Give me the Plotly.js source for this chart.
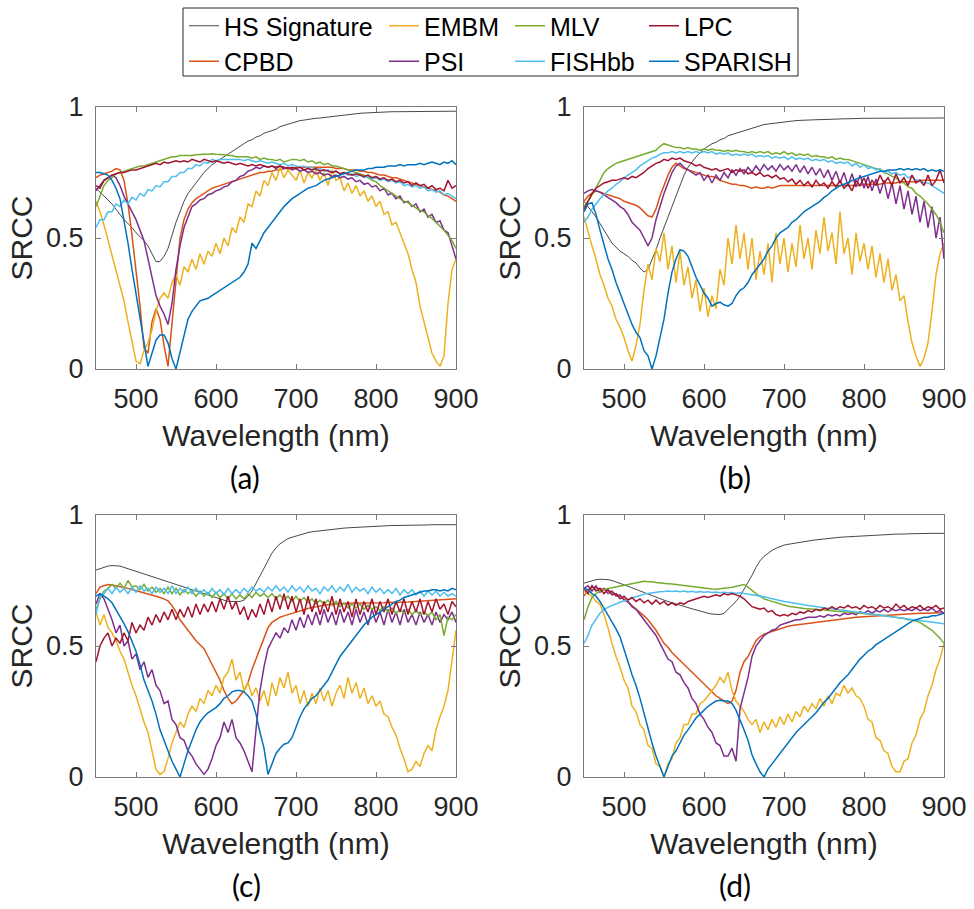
<!DOCTYPE html>
<html>
<head>
<meta charset="utf-8">
<script src="https://cdn.plot.ly/plotly-3.0.1.min.js"></script>
<style>html,body{margin:0;padding:0;background:#fff;}#chart{width:974px;height:909px;}</style>
</head>
<body>
<div id="chart"></div>
<script>
// Wavelength samples (nm)
const wl = [450,455,460,465,470,475,480,485,490,495,500,505,510,515,520,525,530,535,540,545,550,555,560,565,570,575,580,585,590,595,600,605,610,615,620,625,630,635,640,645,650,655,660,665,670,675,680,685,690,695,700,705,710,715,720,725,730,735,740,745,750,755,760,765,770,775,780,785,790,795,800,805,810,815,820,825,830,835,840,845,850,855,860,865,870,875,880,885,890,895,900];

const xTicks = [500,600,700,800,900];
const yTicks = [0,0.5,1];
const yTickText = ['0','0.5','1'];
const panelLabels = ['(a)','(b)','(c)','(d)'];

// ---------- Panel (a) ----------
const hs_a = [.69,.675,.66,.645,.63,.61,.59,.57,.555,.54, .52,.505,.49,.47,.44,.41,.41,.43,.46,.51, .56,.60,.64,.67,.69,.71,.73,.75,.765,.78, .79,.80,.81,.82,.83,.84,.85,.86,.87,.875, .885,.89,.90,.905,.91,.915,.925,.93,.935,.94, .945,.948,.95,.953,.955,.957,.958,.96,.961,.963, .965,.968,.97,.972,.973,.975,.976,.977,.978,.979, .98,.98,.981,.981,.982,.982,.982,.983,.983,.983, .983,.984,.984,.984,.984,.984,.984,.984,.984,.984, .984];
const embm_a = [.64,.60,.55,.49,.44,.38,.31,.26,.18,.10, .03,.02,.07,.10,.15,.22,.27,.29,.27,.33, .36,.32,.39,.37,.42,.38,.44,.40,.45,.43, .48,.44,.50,.47,.54,.52,.58,.56,.63,.62, .68,.66,.72,.70,.75,.72,.77,.73,.76,.74, .72,.76,.71,.75,.73,.76,.72,.75,.70,.76, .72,.73,.68,.71,.67,.70,.66,.68,.64,.66, .62,.64,.59,.60,.55,.56,.52,.48,.44,.38, .33,.24,.18,.12,.06,.03,.01,.05,.25,.38, .42];
const mlv_a = [.62,.66,.70,.72,.73,.745,.75,.755,.76,.765, .77,.775,.775,.78,.785,.79,.795,.80,.805,.81, .81,.815,.815,.815,.815,.818,.82,.82,.82,.822, .82,.82,.818,.815,.815,.81,.81,.81,.81,.805, .81,.80,.805,.80,.80,.795,.80,.79,.795,.80, .80,.795,.80,.79,.795,.785,.79,.78,.785,.775, .775,.77,.765,.76,.755,.75,.745,.74,.73,.72, .715,.70,.69,.68,.67,.66,.65,.64,.635,.625, .615,.605,.60,.585,.575,.56,.545,.53,.51,.49, .46];
const lpc_a = [.70,.69,.72,.73,.74,.745,.75,.75,.755,.76, .76,.765,.77,.775,.78,.785,.78,.79,.785,.79, .795,.79,.795,.79,.80,.795,.79,.80,.795,.79, .795,.79,.785,.79,.785,.78,.785,.78,.775,.78, .775,.78,.775,.77,.775,.77,.775,.77,.765,.77, .765,.77,.76,.765,.76,.765,.755,.76,.755,.75, .755,.745,.75,.745,.74,.745,.74,.735,.74,.73, .735,.725,.73,.72,.725,.715,.72,.71,.715,.70, .71,.70,.705,.69,.70,.685,.69,.68,.72,.69, .70];
const fish_a = [.54,.57,.57,.60,.60,.63,.62,.645,.63,.655, .645,.67,.66,.685,.68,.70,.695,.715,.715,.735, .735,.75,.75,.765,.765,.78,.775,.79,.785,.80, .795,.80,.80,.80,.80,.80,.80,.795,.80,.795, .79,.795,.79,.785,.79,.785,.78,.785,.775,.78, .775,.77,.775,.765,.77,.76,.765,.755,.76,.75, .755,.745,.75,.74,.745,.735,.74,.73,.735,.725, .73,.72,.725,.715,.72,.71,.715,.70,.705,.695, .70,.69,.695,.68,.685,.675,.68,.665,.67,.66, .65];
const psi_a = [.68,.70,.72,.73,.74,.73,.70,.66,.63,.60, .57,.53,.49,.42,.35,.28,.24,.21,.17,.25, .38,.47,.54,.58,.62,.63,.645,.65,.665,.67, .68,.685,.695,.70,.715,.72,.735,.74,.755,.76, .77,.765,.775,.77,.775,.765,.775,.765,.77,.76, .765,.755,.76,.75,.755,.745,.75,.74,.745,.735, .74,.73,.735,.725,.73,.715,.72,.705,.71,.695, .70,.68,.69,.665,.67,.65,.66,.635,.64,.62, .63,.60,.61,.58,.59,.56,.565,.53,.52,.47, .42];
const cpbd_a = [.73,.74,.745,.75,.755,.765,.76,.72,.63,.51, .38,.24,.08,.06,.18,.23,.19,.09,.01,.17, .36,.50,.57,.61,.635,.65,.66,.67,.68,.69, .695,.70,.705,.71,.715,.72,.725,.73,.735,.74, .745,.75,.75,.755,.755,.76,.76,.765,.765,.765, .77,.77,.77,.77,.77,.77,.77,.77,.77,.77, .765,.765,.765,.76,.76,.76,.755,.755,.75,.75, .745,.74,.74,.735,.73,.73,.725,.72,.715,.71, .705,.70,.695,.69,.685,.68,.675,.665,.66,.65, .64];
const sparish_a = [.75,.75,.745,.74,.72,.69,.65,.57,.48,.38, .29,.19,.10,.01,.06,.11,.13,.13,.10,.04, .0,.06,.13,.19,.22,.24,.26,.265,.27,.28, .29,.30,.31,.32,.33,.34,.35,.37,.40,.48, .46,.49,.52,.54,.56,.58,.60,.62,.635,.65, .66,.67,.68,.69,.695,.70,.71,.72,.725,.73, .735,.74,.745,.75,.755,.76,.76,.76,.765,.765, .77,.77,.77,.775,.775,.775,.78,.775,.78,.78, .78,.785,.78,.785,.79,.785,.78,.79,.785,.795, .78];

// ---------- Panel (b) ----------
const hs_b = [.64,.62,.60,.58,.555,.53,.50,.48,.465,.45, .44,.43,.415,.405,.385,.37,.38,.415,.455,.50, .54,.58,.62,.66,.70,.74,.77,.79,.81,.825, .84,.85,.86,.865,.875,.88,.89,.895,.90,.905, .91,.915,.92,.925,.93,.933,.935,.937,.94,.942, .944,.945,.947,.948,.949,.95,.95,.951,.951,.952, .952,.953,.953,.954,.954,.955,.955,.956,.956,.957, .957,.957,.957,.957,.957,.958,.958,.958,.958,.958, .958,.958,.958,.958,.958,.958,.958,.958,.958,.958, .958];
const embm_b = [.58,.52,.47,.42,.36,.32,.27,.24,.19,.16, .12,.07,.03,.09,.17,.30,.40,.34,.46,.41, .52,.38,.47,.33,.45,.32,.39,.27,.34,.22, .31,.20,.28,.23,.38,.32,.50,.40,.55,.42, .52,.38,.50,.34,.45,.36,.48,.33,.52,.40, .50,.37,.48,.39,.55,.42,.50,.38,.53,.44, .58,.45,.52,.40,.60,.44,.50,.36,.52,.41, .48,.38,.47,.35,.44,.33,.42,.30,.36,.26, .28,.18,.10,.05,.01,.04,.10,.22,.36,.44, .48];
const mlv_b = [.62,.64,.665,.69,.72,.75,.765,.775,.785,.79, .795,.80,.805,.81,.815,.82,.825,.83,.835,.85, .86,.855,.85,.845,.845,.84,.845,.84,.84,.835, .84,.835,.84,.835,.835,.83,.835,.83,.835,.83, .83,.825,.83,.825,.83,.825,.83,.82,.825,.82, .83,.82,.825,.815,.82,.815,.82,.81,.815,.81, .81,.805,.81,.80,.805,.80,.80,.795,.79,.785, .78,.775,.77,.765,.76,.75,.745,.735,.73,.715, .71,.695,.69,.67,.66,.645,.63,.61,.59,.56, .52];
const lpc_b = [.61,.64,.67,.69,.70,.71,.715,.72,.72,.725, .73,.725,.735,.73,.74,.75,.765,.775,.785,.79, .80,.795,.805,.80,.805,.795,.79,.785,.775,.78, .77,.765,.76,.765,.755,.76,.765,.75,.76,.755, .76,.745,.75,.74,.75,.735,.74,.73,.74,.725, .73,.715,.725,.705,.72,.70,.715,.695,.72,.70, .71,.69,.715,.695,.72,.69,.705,.68,.72,.70, .73,.69,.72,.70,.74,.71,.73,.70,.745,.71, .73,.70,.74,.71,.72,.70,.74,.70,.72,.76, .71];
const fish_b = [.56,.58,.61,.63,.65,.665,.68,.69,.705,.715, .73,.74,.75,.76,.775,.785,.795,.805,.81,.82, .825,.825,.83,.825,.83,.825,.83,.825,.83,.825, .83,.825,.83,.82,.825,.82,.825,.815,.82,.815, .82,.815,.82,.81,.815,.81,.815,.805,.81,.805, .81,.80,.81,.80,.805,.80,.805,.795,.80,.795, .80,.79,.795,.785,.79,.785,.79,.775,.785,.77, .78,.765,.77,.76,.765,.75,.755,.745,.75,.74, .745,.73,.735,.72,.72,.71,.71,.70,.69,.68, .67];
const psi_b = [.67,.68,.685,.68,.675,.665,.655,.645,.635,.62, .61,.59,.56,.545,.53,.50,.47,.50,.57,.62, .67,.71,.75,.775,.785,.77,.76,.75,.74,.75, .72,.74,.71,.74,.72,.75,.73,.76,.74,.765, .745,.77,.75,.775,.755,.78,.76,.775,.755,.78, .76,.775,.755,.78,.75,.775,.745,.77,.74,.765, .73,.76,.72,.755,.71,.75,.70,.745,.695,.74, .69,.735,.68,.725,.67,.72,.65,.71,.63,.70, .61,.68,.59,.66,.56,.64,.54,.62,.50,.58, .42];
const cpbd_b = [.64,.66,.67,.68,.675,.67,.665,.66,.655,.65, .64,.635,.63,.625,.615,.60,.585,.58,.61,.66, .70,.74,.77,.785,.775,.765,.76,.755,.75,.745, .74,.735,.735,.73,.72,.715,.71,.705,.705,.70, .70,.695,.69,.695,.69,.69,.695,.69,.695,.70, .70,.70,.70,.70,.70,.70,.70,.70,.70,.70, .70,.70,.70,.70,.70,.70,.70,.70,.70,.70, .705,.705,.705,.705,.705,.71,.71,.71,.71,.715, .715,.715,.715,.715,.72,.72,.72,.72,.72,.72, .72];
const sparish_b = [.60,.63,.635,.59,.53,.47,.42,.38,.33,.29, .25,.21,.17,.14,.12,.07,.05,.0,.05,.12, .19,.29,.37,.42,.455,.45,.43,.39,.35,.32, .29,.27,.24,.25,.255,.245,.24,.25,.28,.30, .31,.33,.36,.38,.40,.42,.45,.47,.50,.52, .53,.54,.56,.57,.585,.60,.61,.62,.63,.64, .655,.665,.68,.69,.70,.705,.71,.72,.725,.73, .735,.74,.745,.75,.755,.755,.76,.76,.76,.765, .76,.765,.76,.765,.76,.765,.755,.76,.755,.76, .755];

// ---------- Panel (c) ----------
const hs_c = [.79,.795,.80,.805,.807,.807,.805,.80,.795,.79, .785,.78,.775,.77,.765,.76,.755,.75,.745,.74, .735,.73,.725,.72,.715,.71,.705,.70,.695,.69, .685,.68,.675,.67,.67,.67,.67,.675,.69,.71, .74,.77,.80,.83,.855,.875,.89,.90,.91,.915, .92,.925,.93,.933,.936,.938,.94,.942,.944,.946, .948,.949,.95,.951,.952,.953,.954,.955,.956,.957, .958,.958,.959,.959,.96,.96,.96,.961,.961,.961, .962,.962,.962,.962,.963,.963,.963,.963,.963,.963, .963];
const embm_c = [.63,.58,.62,.57,.55,.52,.48,.45,.40,.35, .31,.26,.21,.17,.10,.03,.01,.02,.07,.13, .17,.21,.19,.24,.27,.25,.30,.28,.33,.31, .35,.32,.38,.40,.45,.37,.40,.33,.36,.31, .34,.29,.33,.27,.36,.31,.38,.34,.40,.32, .35,.28,.33,.27,.32,.28,.34,.29,.33,.27, .32,.35,.30,.38,.32,.36,.30,.34,.28,.31, .27,.29,.24,.23,.19,.16,.11,.07,.02,.03, .06,.04,.09,.12,.10,.18,.23,.27,.33,.45, .56];
const mlv_c = [.64,.68,.71,.72,.735,.72,.74,.72,.75,.725, .73,.715,.735,.71,.725,.705,.72,.70,.725,.70, .72,.695,.715,.70,.71,.69,.71,.69,.705,.685, .705,.685,.70,.68,.70,.68,.695,.68,.70,.685, .705,.69,.70,.685,.70,.68,.695,.675,.69,.67, .69,.67,.685,.665,.68,.66,.675,.66,.675,.655, .67,.65,.665,.645,.66,.645,.66,.64,.655,.64, .65,.635,.65,.63,.645,.625,.64,.625,.64,.62, .635,.62,.63,.615,.63,.60,.62,.54,.61,.60, .62];
const lpc_c = [.44,.50,.53,.55,.50,.53,.51,.55,.52,.59, .55,.58,.56,.61,.58,.62,.59,.63,.60,.64, .60,.64,.61,.65,.61,.66,.62,.66,.63,.67, .63,.68,.64,.69,.64,.67,.62,.65,.60,.64, .61,.66,.62,.68,.63,.69,.64,.70,.64,.69, .63,.68,.62,.69,.63,.68,.62,.67,.63,.69, .62,.68,.63,.67,.61,.68,.62,.67,.63,.68, .62,.67,.63,.68,.62,.67,.63,.68,.62,.67, .63,.68,.62,.67,.63,.68,.64,.66,.62,.67, .65];
const fish_c = [.62,.69,.70,.72,.70,.725,.705,.72,.70,.725, .705,.73,.71,.72,.70,.725,.705,.72,.70,.73, .70,.72,.705,.725,.70,.72,.70,.715,.695,.72, .70,.715,.695,.72,.70,.715,.70,.72,.705,.725, .71,.72,.705,.725,.71,.73,.71,.725,.705,.73, .71,.725,.705,.73,.71,.72,.70,.725,.71,.73, .705,.725,.71,.735,.705,.725,.71,.72,.70,.725, .705,.72,.70,.715,.70,.72,.695,.715,.70,.715, .695,.71,.69,.71,.695,.71,.69,.705,.69,.70, .69];
const psi_c = [.66,.70,.68,.64,.60,.55,.58,.50,.52,.45, .47,.41,.44,.38,.41,.35,.33,.28,.29,.22, .20,.15,.14,.10,.08,.05,.03,.01,.03,.07, .12,.15,.21,.17,.22,.15,.13,.10,.06,.02, .18,.33,.42,.49,.52,.55,.53,.57,.55,.60, .56,.61,.57,.62,.58,.63,.58,.64,.59,.63, .58,.64,.59,.63,.58,.64,.59,.63,.58,.64, .59,.63,.58,.64,.59,.63,.58,.64,.59,.62, .58,.63,.59,.62,.58,.63,.59,.62,.60,.63, .59];
const cpbd_c = [.70,.725,.73,.735,.733,.73,.728,.725,.72,.716, .712,.708,.704,.70,.695,.69,.685,.68,.672,.655, .63,.60,.58,.56,.54,.52,.505,.49,.46,.43, .40,.37,.33,.30,.28,.29,.31,.33,.36,.41, .45,.49,.53,.57,.59,.60,.61,.615,.62,.625, .63,.635,.64,.645,.648,.65,.653,.655,.658,.66, .66,.662,.662,.663,.663,.663,.663,.664,.664,.664, .665,.665,.665,.666,.666,.667,.667,.668,.668,.669, .67,.67,.671,.672,.673,.674,.675,.676,.677,.678, .68];
const sparish_c = [.69,.70,.69,.68,.665,.64,.61,.585,.555,.52, .48,.43,.37,.33,.29,.24,.18,.14,.10,.06, .03,.0,.05,.10,.14,.18,.21,.23,.245,.255, .265,.28,.30,.31,.325,.33,.33,.325,.31,.29, .24,.17,.11,.01,.05,.09,.11,.125,.13,.15, .19,.23,.26,.28,.30,.31,.33,.35,.37,.40, .43,.46,.48,.50,.52,.54,.56,.58,.595,.61, .62,.63,.64,.65,.66,.67,.675,.685,.69,.695, .70,.705,.71,.71,.715,.715,.71,.715,.71,.72, .715];

// ---------- Panel (d) ----------
const hs_d = [.74,.745,.75,.753,.755,.755,.753,.75,.745,.74, .735,.728,.722,.716,.71,.703,.697,.69,.685,.68, .675,.67,.665,.66,.656,.652,.647,.642,.638,.633, .628,.625,.622,.62,.62,.625,.64,.655,.67,.69, .715,.74,.77,.80,.825,.842,.855,.865,.873,.88, .885,.888,.891,.894,.897,.899,.901,.903,.905,.907, .909,.911,.913,.914,.915,.916,.917,.918,.919,.92, .921,.922,.923,.924,.925,.925,.926,.926,.927,.927, .928,.928,.929,.929,.929,.93,.93,.93,.93,.93, .93];
const embm_d = [.71,.70,.69,.67,.66,.62,.57,.51,.46,.42, .37,.34,.27,.25,.20,.18,.12,.11,.05,.04, .0,.05,.07,.13,.15,.20,.20,.24,.24,.28, .29,.31,.33,.35,.38,.36,.40,.33,.29,.27, .25,.22,.20,.22,.17,.21,.18,.22,.19,.23, .20,.24,.21,.25,.23,.27,.25,.28,.26,.30, .27,.31,.28,.32,.31,.35,.32,.34,.31,.30, .27,.22,.21,.15,.14,.10,.09,.04,.02,.02, .06,.07,.13,.16,.22,.25,.31,.35,.41,.45, .51];
const mlv_d = [.60,.65,.685,.70,.71,.715,.72,.722,.725,.728, .732,.735,.738,.74,.745,.747,.745,.745,.742,.74, .74,.738,.737,.735,.733,.73,.728,.727,.725,.723, .72,.72,.718,.717,.718,.72,.722,.724,.727,.73, .735,.725,.712,.70,.69,.68,.675,.67,.665,.66, .655,.652,.65,.647,.645,.643,.642,.64,.64,.638, .637,.635,.634,.633,.632,.63,.63,.628,.627,.625, .624,.622,.62,.62,.618,.617,.615,.613,.61,.608, .605,.60,.60,.595,.59,.58,.57,.56,.545,.53, .51];
const lpc_d = [.72,.70,.73,.71,.72,.70,.715,.695,.70,.68, .69,.675,.685,.67,.68,.665,.675,.66,.675,.66, .67,.655,.665,.655,.665,.66,.67,.675,.68,.685, .69,.685,.69,.695,.69,.70,.695,.70,.695,.69, .68,.665,.65,.645,.64,.645,.63,.635,.62,.615, .62,.615,.625,.62,.63,.625,.635,.63,.64,.635, .645,.64,.65,.64,.65,.645,.655,.645,.65,.64, .655,.645,.65,.64,.655,.645,.65,.64,.66,.645, .655,.64,.65,.645,.655,.64,.65,.645,.655,.64, .645];
const fish_d = [.51,.54,.58,.605,.625,.64,.648,.655,.66,.668, .672,.678,.682,.688,.693,.698,.70,.703,.705,.707, .708,.71,.708,.71,.707,.71,.706,.709,.705,.708, .705,.707,.704,.706,.703,.705,.703,.704,.70,.703, .70,.698,.695,.693,.69,.688,.684,.68,.677,.673, .67,.668,.665,.662,.66,.657,.655,.653,.65,.648, .646,.644,.642,.64,.638,.636,.634,.632,.63,.628, .626,.624,.622,.62,.618,.616,.614,.612,.61,.608, .606,.604,.602,.60,.598,.596,.594,.592,.59,.588, .585];
const psi_d = [.72,.73,.71,.73,.705,.72,.70,.71,.69,.695, .675,.67,.65,.64,.62,.60,.58,.56,.54,.51, .48,.45,.44,.40,.39,.36,.34,.30,.28,.24, .22,.19,.17,.13,.12,.08,.08,.11,.06,.26, .32,.38,.46,.50,.52,.54,.55,.56,.565,.58, .585,.59,.595,.60,.60,.605,.61,.61,.61,.615, .61,.62,.615,.62,.615,.625,.62,.625,.62,.63, .625,.635,.625,.635,.63,.64,.63,.64,.635,.64, .635,.64,.635,.645,.635,.64,.635,.645,.63,.635, .625];
const cpbd_d = [.69,.715,.725,.722,.72,.716,.712,.705,.698,.69, .68,.667,.655,.64,.63,.615,.60,.58,.56,.535, .51,.495,.475,.46,.445,.43,.415,.40,.385,.37, .355,.34,.325,.31,.30,.29,.28,.29,.33,.40, .44,.46,.49,.52,.535,.545,.55,.555,.56,.567, .572,.575,.578,.58,.583,.585,.588,.59,.592,.594, .596,.598,.60,.602,.603,.605,.606,.608,.61,.611, .612,.613,.614,.615,.617,.618,.619,.62,.621,.622, .623,.624,.625,.625,.625,.625,.626,.626,.626,.626, .625];
const sparish_d = [.72,.715,.70,.69,.67,.645,.62,.59,.565,.535, .49,.44,.39,.35,.30,.24,.18,.13,.08,.04, .0,.04,.08,.10,.13,.16,.18,.205,.225,.24, .255,.27,.28,.29,.293,.29,.29,.28,.255,.22, .18,.14,.085,.05,.02,.0,.03,.05,.07,.09, .11,.13,.15,.17,.185,.20,.215,.23,.245,.265, .285,.30,.32,.34,.36,.375,.39,.41,.43,.45, .465,.48,.49,.505,.515,.525,.535,.545,.555,.565, .575,.585,.595,.60,.605,.61,.61,.615,.615,.62, .625];

// Series styling (drawing order = MATLAB plot order)
const series = [
  {key:'hs',      name:'HS Signature', color:'#1a1a1a', width:0.8, legend:'legend'},
  {key:'cpbd',    name:'CPBD',         color:'#D95319', width:1.5, legend:'legend'},
  {key:'embm',    name:'EMBM',         color:'#EDB120', width:1.5, legend:'legend2'},
  {key:'psi',     name:'PSI',          color:'#7E2F8E', width:1.5, legend:'legend2'},
  {key:'mlv',     name:'MLV',          color:'#77AC30', width:1.5, legend:'legend3'},
  {key:'fish',    name:'FISHbb',       color:'#4DBEEE', width:1.5, legend:'legend3'},
  {key:'lpc',     name:'LPC',          color:'#A2142F', width:1.5, legend:'legend4'},
  {key:'sparish', name:'SPARISH',      color:'#0072BD', width:1.5, legend:'legend4'}
];

const panels = [
  {xa:'x',  ya:'y',  d:{hs:hs_a, cpbd:cpbd_a, embm:embm_a, psi:psi_a, mlv:mlv_a, fish:fish_a, lpc:lpc_a, sparish:sparish_a}},
  {xa:'x2', ya:'y2', d:{hs:hs_b, cpbd:cpbd_b, embm:embm_b, psi:psi_b, mlv:mlv_b, fish:fish_b, lpc:lpc_b, sparish:sparish_b}},
  {xa:'x3', ya:'y3', d:{hs:hs_c, cpbd:cpbd_c, embm:embm_c, psi:psi_c, mlv:mlv_c, fish:fish_c, lpc:lpc_c, sparish:sparish_c}},
  {xa:'x4', ya:'y4', d:{hs:hs_d, cpbd:cpbd_d, embm:embm_d, psi:psi_d, mlv:mlv_d, fish:fish_d, lpc:lpc_d, sparish:sparish_d}}
];

const traces = [];
panels.forEach((p, pi) => {
  series.forEach(s => {
    traces.push({
      type:'scatter', mode:'lines', x: wl, y: p.d[s.key],
      xaxis: p.xa, yaxis: p.ya, name: s.name,
      line:{color:s.color, width:s.width},
      showlegend: pi === 0, legend: s.legend, hoverinfo:'skip'
    });
  });
});

const W = 974, H = 909;
const px = v => v / W;
const py = v => 1 - v / H;
const FONT = 'Liberation Sans, Arial, Helvetica, sans-serif';

function xAxis(l, r, anchor) {
  return {
    domain:[px(l), px(r)], anchor: anchor, range:[450,900],
    tickmode:'array', tickvals:xTicks,
    showline:true, linecolor:'#7a7a7a', linewidth:1, mirror:'ticks',
    ticks:'inside', ticklen:5, tickcolor:'#7a7a7a', tickwidth:1,
    showgrid:false, zeroline:false, ticklabelstandoff: 6,
    tickfont:{family:FONT, size:27, color:'#262626'},
    title:{text:'Wavelength (nm)', font:{family:FONT, size:30, color:'#262626'}, standoff: 11}
  };
}
function yAxis(t, b, anchor) {
  return {
    domain:[py(b), py(t)], anchor: anchor, range:[0,1],
    tickmode:'array', tickvals:yTicks, ticktext:yTickText,
    showline:true, linecolor:'#7a7a7a', linewidth:1, mirror:'ticks',
    ticks:'inside', ticklen:5, tickcolor:'#7a7a7a', tickwidth:1,
    showgrid:false, zeroline:false, ticklabelstandoff: 6,
    tickfont:{family:FONT, size:27, color:'#262626'},
    title:{text:'SRCC', font:{family:FONT, size:30, color:'#262626'}, standoff: 4}
  };
}

const legFont = {family:FONT, size:25, color:'#000000'};
function leg(xpx) {
  return {x:px(xpx), y:py(3), xanchor:'left', yanchor:'top', orientation:'v',
          font:legFont, bgcolor:'rgba(0,0,0,0)', borderwidth:0, tracegroupgap:0};
}

const labelPos = [[245,477],[735,477],[246,885],[735,885]];
const annotations = panelLabels.map((t,i) => ({
  text:t, xref:'paper', yref:'paper', x:px(labelPos[i][0]), y:py(labelPos[i][1]),
  xanchor:'center', yanchor:'middle', showarrow:false,
  font:{family:'Lato, Open Sans, sans-serif', size:30, color:'#000'}
}));

const layout = {
  width:W, height:H, margin:{l:0,r:0,t:0,b:0},
  paper_bgcolor:'#ffffff', plot_bgcolor:'#ffffff',
  showlegend:true,
  xaxis: xAxis(96, 456, 'y'),   yaxis: yAxis(107, 369, 'x'),
  xaxis2: xAxis(584, 944, 'y2'), yaxis2: yAxis(107, 369, 'x2'),
  xaxis3: xAxis(96, 456, 'y3'),  yaxis3: yAxis(515, 777, 'x3'),
  xaxis4: xAxis(584, 944, 'y4'), yaxis4: yAxis(515, 777, 'x4'),
  legend: leg(184), legend2: leg(384), legend3: leg(510), legend4: leg(644),
  shapes:[{type:'rect', xref:'paper', yref:'paper', x0:px(183), x1:px(798), y0:py(76), y1:py(8),
           line:{color:'#262626', width:1}, fillcolor:'rgba(0,0,0,0)'}],
  annotations: annotations
};

Plotly.newPlot('chart', traces, layout, {displayModeBar:false, staticPlot:true});
</script>
</body>
</html>
